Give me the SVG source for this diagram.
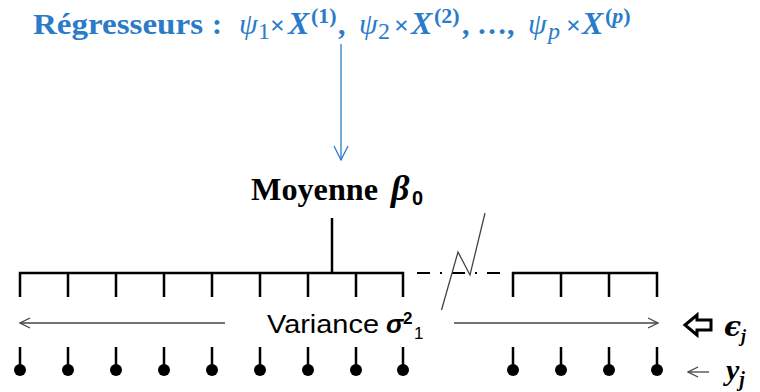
<svg xmlns="http://www.w3.org/2000/svg" width="760" height="392" viewBox="0 0 760 392">
<style>
.blue{fill:#2a7bc9;font-family:"Liberation Serif",serif}
.b{font-weight:bold}
.i{font-style:italic}
.tick{stroke:#000;stroke-width:2.5;fill:none}
.thin{stroke:#444;stroke-width:1.3;fill:none}
</style>
<defs>
<marker id="chev" viewBox="0 0 12 12" refX="11" refY="6" markerWidth="12" markerHeight="12" markerUnits="userSpaceOnUse" orient="auto">
<path d="M1,1 L11,6 L1,11" fill="none" stroke="context-stroke" stroke-width="1.3"/>
</marker>
<marker id="chevB" viewBox="0 0 16 16" refX="15" refY="8" markerWidth="16" markerHeight="16" markerUnits="userSpaceOnUse" orient="auto">
<path d="M1,1 L15,8 L1,15" fill="none" stroke="#2a7bc9" stroke-width="1.3"/>
</marker>
</defs>
<rect width="760" height="392" fill="#fff"/>

<g id="regresseurs">
<text class="blue" y="34" font-size="30">
<tspan x="33" class="b" textLength="170" lengthAdjust="spacingAndGlyphs">Régresseurs</tspan>
<tspan x="212" class="b">:</tspan>
<tspan x="239" class="i">ψ</tspan><tspan x="258" dy="5" font-size="24">1</tspan>
<tspan x="270" dy="-5" font-size="26" class="b">×</tspan><tspan x="288" class="i b" font-size="32">X</tspan><tspan x="311" dy="-11" font-size="22" class="b">(1)</tspan><tspan x="338" dy="11" class="b">,</tspan>
<tspan x="359" class="i">ψ</tspan><tspan x="378" dy="5" font-size="24">2</tspan>
<tspan x="394" dy="-5" font-size="26" class="b">×</tspan><tspan x="411" class="i b" font-size="32">X</tspan><tspan x="434" dy="-11" font-size="22" class="b">(2)</tspan><tspan x="462" dy="11" class="b">, …,</tspan>
<tspan x="528" class="i">ψ</tspan><tspan x="548" dy="5" font-size="24" class="i">p</tspan>
<tspan x="566" dy="-5" font-size="26" class="b">×</tspan><tspan x="582" class="i b" font-size="32">X</tspan><tspan x="605" dy="-11" font-size="22" class="b">(</tspan><tspan class="i b" font-size="22">p</tspan><tspan class="b" font-size="22">)</tspan>
</text>
</g>

<g id="moyenne">
<text y="200" font-family="'Liberation Serif',serif" font-size="32" font-weight="bold" fill="#000"><tspan x="251" textLength="127" lengthAdjust="spacingAndGlyphs">Moyenne</tspan><tspan x="391" font-style="italic" font-size="36">β</tspan><tspan x="412" dy="5" font-size="20" font-family="'Liberation Sans',sans-serif">0</tspan></text>
</g>

<g id="variance">
<text x="267" y="333" font-family="'Liberation Sans',sans-serif" font-size="26" fill="#000"><tspan textLength="112" lengthAdjust="spacingAndGlyphs">Variance</tspan><tspan x="386" font-weight="bold" font-style="italic">σ</tspan><tspan x="403" dy="-9" font-size="17" font-weight="bold">2</tspan><tspan x="414" dy="15" font-size="17">1</tspan></text>
</g>

<g id="labels">
<text x="724" y="336" font-family="'DejaVu Serif',serif" font-size="28" font-weight="bold" font-style="italic" fill="#000">ϵ<tspan dy="6" font-size="18" font-family="'Liberation Serif',serif">j</tspan></text>
<text x="726" y="380" font-family="'Liberation Serif',serif" font-size="30" font-weight="bold" font-style="italic" fill="#000">y<tspan dy="6" font-size="20">j</tspan></text>
</g>

<g id="connectors">
<line x1="341" y1="44" x2="341" y2="160" stroke="#2a7bc9" stroke-width="1.3" marker-end="url(#chevB)"/>
<line class="tick" x1="332" y1="218" x2="332" y2="273"/>
<path class="tick" d="M20,297 V273 H403 V297 M68,273 V297 M116,273 V297 M164,273 V297 M212,273 V297 M260,273 V297 M308,273 V297 M356,273 V297"/>
<path class="tick" d="M513,297 V273 H657 V297 M561,273 V297 M609,273 V297"/>
<line x1="417" y1="273" x2="506" y2="273" stroke="#000" stroke-width="2.2" stroke-dasharray="13 10 2 10"/>
<polyline points="441.5,310 458,252 470,275 485,213" fill="none" stroke="#444" stroke-width="1.3"/>
<line class="thin" x1="225" y1="323" x2="20" y2="323" marker-end="url(#chev)"/>
<line class="thin" x1="454" y1="323" x2="658" y2="323" marker-end="url(#chev)"/>
<g stroke="#000" stroke-width="2.5" fill="#000">
<path d="M20,347 V368 M68,347 V368 M116,347 V368 M164,347 V368 M212,347 V368 M260,347 V368 M308,347 V368 M356,347 V368 M403,347 V368 M513,347 V368 M561,347 V368 M609,347 V368 M657,347 V368"/>
<g stroke="none">
<circle cx="20" cy="370" r="6"/><circle cx="68" cy="370" r="6"/><circle cx="116" cy="370" r="6"/><circle cx="164" cy="370" r="6"/><circle cx="212" cy="370" r="6"/><circle cx="260" cy="370" r="6"/><circle cx="308" cy="370" r="6"/><circle cx="356" cy="370" r="6"/><circle cx="403" cy="370" r="6"/><circle cx="513" cy="370" r="6"/><circle cx="561" cy="370" r="6"/><circle cx="609" cy="370" r="6"/><circle cx="657" cy="370" r="6"/>
</g>
</g>
<path d="M685,325 L697,315 V320 H711 V330 H697 V335 Z" fill="#fff" stroke="#000" stroke-width="3" stroke-linejoin="miter"/>
<line class="thin" x1="709" y1="372" x2="688" y2="372" marker-end="url(#chev)"/>
</g>
</svg>
